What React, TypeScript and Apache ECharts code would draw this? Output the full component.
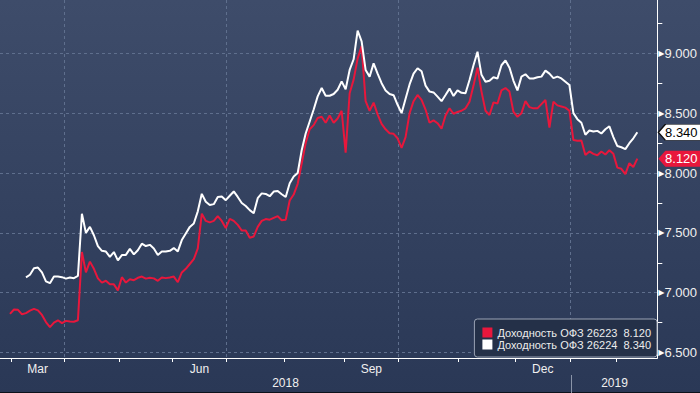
import React, { useEffect, useRef } from 'react';
import * as echarts from 'echarts';

const seriesNames = ['Доходность ОФЗ 26223', 'Доходность ОФЗ 26224'];

// trading-day index of the first value of each series
const redStart = 0;
const red = [
  6.824, 6.86, 6.857, 6.82, 6.83, 6.85, 6.865, 6.853, 6.815, 6.755,
  6.713, 6.75, 6.77, 6.746, 6.765, 6.76, 6.758, 6.77, 7.34, 7.17,
  7.26, 7.2, 7.12, 7.085, 7.1, 7.07, 7.07, 7.02, 7.13, 7.085,
  7.113, 7.105, 7.125, 7.135, 7.118, 7.125, 7.12, 7.1, 7.128, 7.122,
  7.128, 7.135, 7.088, 7.17, 7.2, 7.24, 7.28, 7.37, 7.66, 7.6,
  7.588, 7.6, 7.64, 7.6, 7.54, 7.617, 7.6, 7.567, 7.52, 7.52,
  7.46, 7.47, 7.55, 7.6, 7.615, 7.61, 7.625, 7.64, 7.605, 7.61,
  7.77, 7.82, 7.91, 8.08, 8.25, 8.365, 8.4, 8.46, 8.47, 8.42,
  8.48, 8.42, 8.455, 8.52, 8.17, 8.666, 8.78, 8.955, 9.06, 8.6,
  8.52, 8.588, 8.49, 8.41, 8.365, 8.332, 8.327, 8.29, 8.21, 8.3,
  8.5, 8.6, 8.652, 8.61, 8.53, 8.42, 8.44, 8.416, 8.37, 8.48,
  8.54, 8.495, 8.51, 8.52, 8.54, 8.596, 8.73, 8.88, 8.68, 8.52,
  8.485, 8.59, 8.58, 8.69, 8.71, 8.68, 8.51, 8.47, 8.5, 8.6,
  8.55, 8.54, 8.54, 8.575, 8.61, 8.38, 8.596, 8.565, 8.556, 8.546,
  8.52, 8.275, 8.27, 8.272, 8.151, 8.18, 8.16, 8.148, 8.18, 8.155,
  8.19, 8.16, 8.045, 8.035, 7.99, 8.082, 8.05, 8.12,
];

const whiteStart = 4;
const white = [
  7.128, 7.15, 7.205, 7.21, 7.17, 7.095, 7.08, 7.135, 7.135, 7.13,
  7.118, 7.127, 7.122, 7.14, 7.66, 7.5, 7.55, 7.48, 7.39, 7.35,
  7.344, 7.3, 7.34, 7.27, 7.315, 7.316, 7.366, 7.32, 7.355, 7.41,
  7.39, 7.4, 7.37, 7.316, 7.345, 7.344, 7.35, 7.373, 7.345, 7.44,
  7.495, 7.55, 7.578, 7.68, 7.826, 7.76, 7.733, 7.74, 7.8, 7.803,
  7.773, 7.81, 7.846, 7.8, 7.75, 7.725, 7.69, 7.664, 7.79, 7.83,
  7.825, 7.806, 7.845, 7.85, 7.823, 7.8, 7.915, 7.97, 8.0, 8.19,
  8.33, 8.43, 8.53, 8.64, 8.71, 8.645, 8.645, 8.66, 8.695, 8.765,
  8.7, 8.861, 8.95, 9.19, 9.1, 8.861, 8.805, 8.916, 8.83, 8.75,
  8.69, 8.66, 8.65, 8.57, 8.5, 8.62, 8.74, 8.83, 8.875, 8.85,
  8.73, 8.68, 8.673, 8.638, 8.6, 8.652, 8.705, 8.644, 8.69, 8.67,
  8.666, 8.777, 8.9, 9.013, 8.82, 8.763, 8.771, 8.8, 8.79, 8.9,
  8.94, 8.88, 8.77, 8.69, 8.805, 8.825, 8.79, 8.79, 8.8, 8.805,
  8.855, 8.83, 8.792, 8.805, 8.79, 8.763, 8.735, 8.5, 8.45, 8.42,
  8.32, 8.355, 8.346, 8.352, 8.33, 8.365, 8.39, 8.3, 8.225, 8.215,
  8.2, 8.249, 8.29, 8.34,
];

// month boundaries (trading-day index of the first day of each month)
const monthNames = ['Mar', 'Apr', 'May', 'Jun', 'Jul', 'Aug', 'Sep', 'Oct', 'Nov', 'Dec', 'Jan'];
const monthStarts = [0.2, 13.6, 27.3, 40.6, 54.2, 68.6, 83.75, 97.1, 112.3, 126.4, 140.25, 151.7];
const labeledMonths = ['Mar', 'Jun', 'Sep', 'Dec'];
const quarterStarts = [13.6, 54.2, 97.1, 140.25];
const years = ['2018', '2019'];
const yearBreak = 140.25;

const xMin = -2.5;
const xMax = 162;
const yMin = 6.455;
const yMax = 9.445;
const majorTicks = [6.5, 7.0, 7.5, 8.0, 8.5, 9.0];
const minorTicks = [6.75, 7.25, 7.75, 8.25, 8.75, 9.25];

const RED = '#e8173c';
const WHITE = '#ffffff';

export default function App() {
  const ref = useRef<HTMLDivElement>(null);

  useEffect(() => {
    if (!ref.current) return;
    const chart = echarts.init(ref.current, null, { renderer: 'svg' });

    const redData = red.map((v, i) => [redStart + i, v]);
    const whiteData = white.map((v, i) => [whiteStart + i, v]);
    const lastRed = red[red.length - 1];
    const lastWhite = white[white.length - 1];
    const lastMap: Record<string, number> = {
      [seriesNames[0]]: lastRed,
      [seriesNames[1]]: lastWhite,
    };

    const monthMid = labeledMonths.map((m) => {
      const i = monthNames.indexOf(m);
      return (monthStarts[i] + monthStarts[i + 1]) / 2;
    });
    const yearMid = [(xMin + yearBreak) / 2, (yearBreak + xMax) / 2];

    const font = '"Liberation Sans", Arial, sans-serif';
    const gridColor = '#5f6f8d';
    const tagPath = 'path://M0,8L7,0L50,0L50,16L7,16Z';

    const gridRect = { left: 0, right: 42, top: 0, bottom: 35 };

    const tag = (value: number, fill: string, text: string, border?: string) => ({
      symbol: tagPath,
      symbolSize: [50, 16],
      symbolOffset: [26, 0],
      symbolKeepAspect: false,
      silent: true,
      itemStyle: { color: fill, borderColor: border || fill, borderWidth: border ? 1 : 0 },
      label: {
        show: true,
        position: 'inside',
        offset: [-2, 0],
        formatter: () => value.toFixed(3),
        color: text,
        fontSize: 13,
        fontFamily: font,
      },
      data: [{ coord: [xMax, value] }],
    });

    chart.setOption({
      animation: false,
      backgroundColor: new echarts.graphic.LinearGradient(0, 0, 0, 1, [
        { offset: 0, color: '#3e4c6a' },
        { offset: 1, color: '#2a3856' },
      ]),
      grid: [
        { ...gridRect, containLabel: false },
        { ...gridRect, containLabel: false },
      ],
      legend: {
        orient: 'vertical',
        right: 43,
        bottom: 36,
        itemWidth: 10,
        itemHeight: 10,
        itemGap: 1,
        icon: 'rect',
        padding: [8, 6, 7, 8],
        backgroundColor: '#243048',
        borderColor: '#9aa3b4',
        borderWidth: 1,
        borderRadius: 3,
        textStyle: { color: '#ececec', fontSize: 11, fontFamily: font, lineHeight: 11 },
        formatter: (name: string) => name + '  ' + lastMap[name].toFixed(3),
        data: seriesNames,
      },
      xAxis: [
        {
          type: 'value',
          gridIndex: 0,
          min: xMin,
          max: xMax,
          position: 'bottom',
          axisLine: { show: true, onZero: false, lineStyle: { color: '#ffffff', width: 1 } },
          axisTick: { show: true, customValues: monthStarts, length: 4, lineStyle: { color: '#ffffff' } },
          axisLabel: {
            show: true,
            customValues: monthMid,
            margin: 5,
            color: '#f0f0f0',
            fontSize: 12,
            fontFamily: font,
            formatter: (v: number) => {
              const idx = monthMid.findIndex((m) => Math.abs(m - v) < 1e-6);
              return idx >= 0 ? labeledMonths[idx] : '';
            },
          },
          splitLine: { show: false },
        },
        {
          type: 'value',
          gridIndex: 0,
          min: xMin,
          max: xMax,
          position: 'top',
          axisLine: { show: false },
          axisTick: { show: false, customValues: quarterStarts },
          axisLabel: { show: false },
          splitLine: { show: true, lineStyle: { color: gridColor, type: [3, 3], width: 1 } },
        },
        {
          type: 'value',
          gridIndex: 1,
          min: xMin,
          max: xMax,
          position: 'bottom',
          offset: 17,
          axisLine: { show: false },
          axisTick: { show: true, customValues: [yearBreak], length: 18, lineStyle: { color: '#8a94a8' } },
          axisLabel: {
            show: true,
            customValues: yearMid,
            margin: 2,
            color: '#f0f0f0',
            fontSize: 12,
            fontFamily: font,
            formatter: (v: number) => {
              const idx = yearMid.findIndex((m) => Math.abs(m - v) < 1e-6);
              return idx >= 0 ? years[idx] : '';
            },
          },
          splitLine: { show: false },
        },
      ],
      yAxis: [
        {
          type: 'value',
          gridIndex: 0,
          min: yMin,
          max: yMax,
          position: 'right',
          axisLine: { show: true, onZero: false, lineStyle: { color: '#ffffff', width: 1 } },
          axisTick: { show: true, customValues: minorTicks, length: 5, lineStyle: { color: '#ffffff' } },
          axisLabel: {
            show: true,
            customValues: majorTicks,
            margin: 1,
            formatter: (v: number) => '{t|▶}{v|' + v.toFixed(3) + '}',
            rich: {
              t: { fontSize: 8, color: '#ffffff', fontFamily: 'DejaVu Sans', verticalAlign: 'middle' },
              v: { fontSize: 13, color: '#f0f0f0', fontFamily: font, verticalAlign: 'middle' },
            },
          },
          splitLine: { show: false },
        },
        {
          type: 'value',
          gridIndex: 0,
          min: yMin,
          max: yMax,
          position: 'left',
          axisLine: { show: false },
          axisTick: { show: false, customValues: majorTicks },
          axisLabel: { show: false },
          splitLine: { show: true, lineStyle: { color: gridColor, type: [3, 3], width: 1 } },
        },
        {
          type: 'value',
          gridIndex: 1,
          min: yMin,
          max: yMax,
          show: false,
        },
      ],
      series: [
        {
          name: seriesNames[0],
          type: 'line',
          xAxisIndex: 0,
          yAxisIndex: 0,
          data: redData,
          showSymbol: false,
          symbol: 'none',
          itemStyle: { color: RED },
          lineStyle: { color: RED, width: 2 },
          markPoint: tag(lastRed, RED, '#ffffff'),
        },
        {
          name: seriesNames[1],
          type: 'line',
          xAxisIndex: 0,
          yAxisIndex: 0,
          data: whiteData,
          showSymbol: false,
          symbol: 'none',
          itemStyle: { color: WHITE },
          lineStyle: { color: WHITE, width: 2 },
          markPoint: tag(lastWhite, WHITE, '#000000', '#111111'),
        },
      ],
      graphic: [
        {
          type: 'rect',
          left: 0,
          bottom: 0,
          shape: { width: 700, height: 1 },
          style: { fill: '#0c111b' },
          silent: true,
        },
      ],
    });

    return () => {
      chart.dispose();
    };
  }, []);

  return (
    <div
      ref={ref}
      style={{ position: 'fixed', left: 0, top: 0, width: 700, height: 393 }}
    />
  );
}
